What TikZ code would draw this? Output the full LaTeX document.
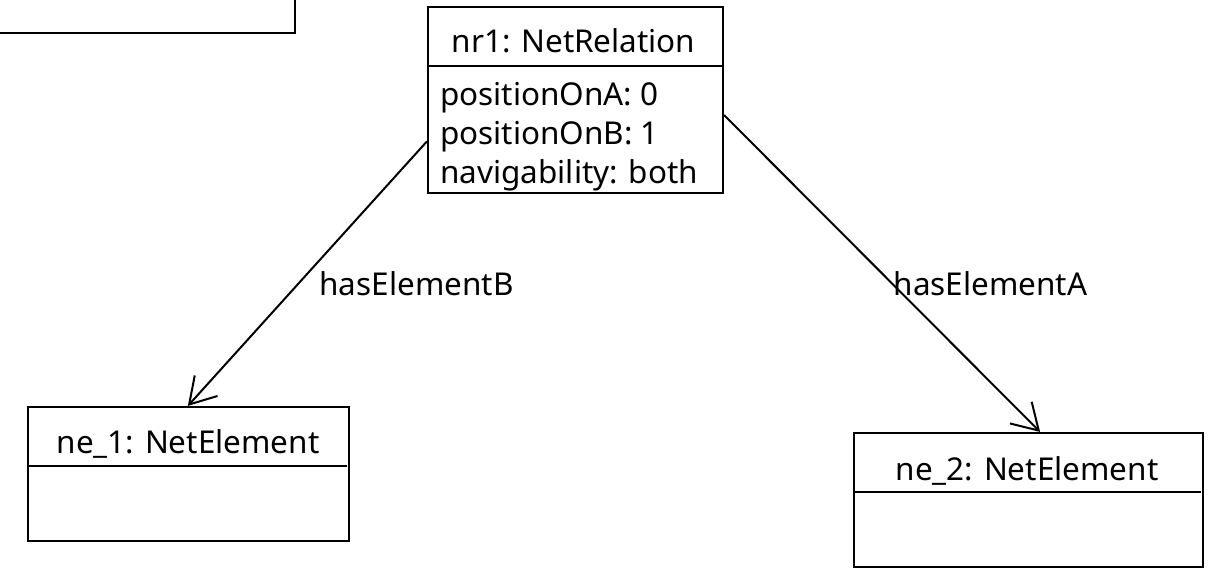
\documentclass[tikz,border=0pt]{standalone}
\usepackage{fontspec}
\setmainfont{Noto Sans}
\usetikzlibrary{arrows.meta,calc}
\begin{document}
\begin{tikzpicture}[x=0.75pt,y=-0.75pt,
  umlbox/.style={draw,line width=1.6pt,inner sep=0pt,rectangle},
  txt/.style={inner sep=0pt,font=\fontsize{23.6}{30}\selectfont},
  rel/.style={line width=1.5pt,-{Straight Barb[length=19pt,width=23pt,line width=1.5pt]}},
  divider/.style={line width=1.6pt}]
\useasboundingbox (0,0) rectangle (1214,577);
\begin{scope}
\clip (0,0) rectangle (1214,577);
\draw[line width=1.6pt] (-10,33) -- (295,33) -- (295,-10);
\end{scope}
% nr1
\node[umlbox,minimum width=221.25pt,minimum height=139.5pt] (nr1) at (575.5,100) {};
\draw[divider] (nr1.west |- 0,66) -- (nr1.east |- 0,66);
\node[txt,anchor=base] (nr1t) at (573.5,53) {nr1: NetRelation};
\node[txt,anchor=base west] (a1) at (440,106) {positionOnA: 0};
\node[txt,anchor=base west] (a2) at (440,145) {positionOnB: 1};
\node[txt,anchor=base west] (a3) at (440,184) {navigability: both};
% ne_1
\node[umlbox,minimum width=240.75pt,minimum height=100.5pt] (ne1) at (188.5,474) {};
\draw[divider] (ne1.west |- 0,466) -- ([xshift=-2pt]ne1.east |- 0,466);
\node[txt,anchor=base] (ne1t) at (188,453) {ne\_1: NetElement};
% ne_2
\node[umlbox,minimum width=261.75pt,minimum height=100.5pt] (ne2) at (1028.5,500) {};
\draw[divider] (ne2.west |- 0,492) -- ([xshift=-2pt]ne2.east |- 0,492);
\node[txt,anchor=base] (ne2t) at (1027,480) {ne\_2: NetElement};
% connectors
\draw[rel] ($(nr1.north west)!0.72!(nr1.south west)$) -- ($(ne1.north west)!0.498!(ne1.north east)$);
\draw[rel] ($(nr1.north east)!0.58!(nr1.south east)$) -- ($(ne2.north west)!0.533!(ne2.north east)$);
\node[txt,anchor=base] (lb) at (416.5,296) {hasElementB};
\node[txt,anchor=base] (la) at (990.5,296) {hasElementA};
\end{tikzpicture}
\end{document}
